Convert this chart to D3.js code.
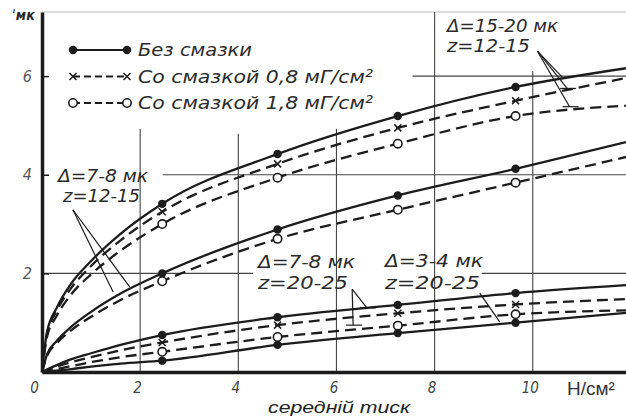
<!DOCTYPE html>
<html>
<head>
<meta charset="utf-8">
<script src="https://cdn.jsdelivr.net/npm/d3@7"></script>
<style>
  body { margin: 0; background: #fff; }
  svg { display: block; }
  .lbl { font-family: "Liberation Sans Narrow", "DejaVu Sans Condensed", "Liberation Sans", sans-serif; font-style: italic; fill: #2a2a2a; }
</style>
</head>
<body>
<svg id="drawing_region"></svg>
<script>
// x positions of the curve points (Н/см2); markers sit on four of them
const curveX  = [0, 0.1, 0.3, 0.6, 1, 1.6, 2.45, 4.8, 7.25, 9.65, 11.9];
const markerX = [2.45, 4.8, 7.25, 9.65];

// Δ=15-20 мк, z=12-15
const a_dry  = [0, 0.8, 1.3, 1.8, 2.25, 2.8, 3.41, 4.42, 5.19, 5.78, 6.16];
const a_08   = [0, 0.76, 1.24, 1.71, 2.15, 2.67, 3.25, 4.22, 4.95, 5.5, 5.96];
const a_18   = [0, 0.7, 1.14, 1.58, 1.98, 2.46, 3.0, 3.94, 4.63, 5.19, 5.4];
// Δ=7-8 мк, z=12-15
const b_dry  = [0, 0.35, 0.63, 0.92, 1.22, 1.59, 2.0, 2.89, 3.58, 4.12, 4.66];
const b_18   = [0, 0.32, 0.58, 0.85, 1.12, 1.46, 1.84, 2.7, 3.29, 3.84, 4.36];
// Δ=7-8 мк, z=20-25
const c_dry  = [0, 0.05, 0.14, 0.26, 0.38, 0.55, 0.75, 1.11, 1.36, 1.6, 1.76];
const c_08   = [0, 0.04, 0.11, 0.2, 0.3, 0.44, 0.6, 0.95, 1.19, 1.37, 1.48];
const c_18   = [0, 0.02, 0.06, 0.12, 0.2, 0.3, 0.41, 0.71, 0.94, 1.17, 1.25];
// Δ=3-4 мк, z=20-25
const d_dry  = [0, 0.01, 0.03, 0.06, 0.11, 0.17, 0.23, 0.55, 0.79, 1.0, 1.2];

const xTicks = [0, 2, 4, 6, 8, 10];
const yTicks = [2, 4, 6];

const legendLabels = ["Без смазки", "Со смазкой 0,8 мГ/см²", "Со смазкой 1,8 мГ/см²"];

// partial grid lines as drawn on the sheet (data units)
const vGrid = [[2, 0, 4.93], [4, 0, 4.83], [6, 0, 4.93], [8, 0, 7.3], [10, 0, 6.1]];
const hGrid = [[2, 0, 4.3], [2, 8.96, 11.9], [4, 2.46, 11.9], [6, 7.55, 11.9]];

const W = 626, H = 417;
const svg = d3.select('#drawing_region').attr('width', W).attr('height', H);

const x = d3.scaleLinear().domain([0, 11.9]).range([42, 626]);
const y = d3.scaleLinear().domain([0, 7.3]).range([372, 12]);

const ink = '#1c1c1c';

// frame top
svg.append('line')
    .attr('x1', x(0)).attr('x2', W).attr('y1', y(7.3)).attr('y2', y(7.3))
    .attr('stroke', '#bbb').attr('stroke-width', 1);

// grid
svg.append('g').selectAll('line').data(vGrid).join('line')
    .attr('x1', d => x(d[0])).attr('x2', d => x(d[0]))
    .attr('y1', d => y(d[1])).attr('y2', d => y(d[2]))
    .attr('stroke', '#444').attr('stroke-width', 1.1);
svg.append('g').selectAll('line').data(hGrid).join('line')
    .attr('y1', d => y(d[0])).attr('y2', d => y(d[0]))
    .attr('x1', d => x(d[1])).attr('x2', d => x(d[2]))
    .attr('stroke', '#444').attr('stroke-width', 1.1);

// axes
const xaxis = svg.append('g').attr('transform', `translate(0, ${y(0)})`)
    .call(d3.axisBottom(x).tickValues(xTicks).tickSize(0).tickPadding(10));
xaxis.select('.domain').attr('stroke', ink).attr('stroke-width', 3.5);
xaxis.selectAll('text').attr('class', 'lbl').attr('font-size', 15)
    .attr('dx', d => d === 0 ? -8 : -3).style('fill', '#444');

const yaxis = svg.append('g').attr('transform', `translate(${x(0)}, 0)`)
    .call(d3.axisLeft(y).tickValues(yTicks).tickSizeInner(-7).tickSizeOuter(0).tickPadding(10));
yaxis.select('.domain').attr('stroke', ink).attr('stroke-width', 3.5);
yaxis.selectAll('.tick line').attr('stroke', ink).attr('stroke-width', 1.5);
yaxis.selectAll('text').attr('class', 'lbl').attr('font-size', 16).style('fill', '#555');

// curves
const table = [
    { vals: a_dry, kind: 'dot' }, { vals: a_08, kind: 'x' }, { vals: a_18, kind: 'o' },
    { vals: b_dry, kind: 'dot' }, { vals: b_18, kind: 'o' },
    { vals: c_dry, kind: 'dot' }, { vals: c_08, kind: 'x' }, { vals: c_18, kind: 'o' },
    { vals: d_dry, kind: 'dot' }
].map(s => ({ kind: s.kind, pts: curveX.map((cx, i) => [cx, s.vals[i]]) }));

const line = d3.line().x(d => x(d[0])).y(d => y(d[1])).curve(d3.curveMonotoneX);

svg.append('g').selectAll('path').data(table).join('path')
    .attr('d', d => line(d.pts))
    .attr('fill', 'none').attr('stroke', ink).attr('stroke-width', 2.3)
    .attr('stroke-dasharray', d => d.kind === 'dot' ? null : '11,6');

function drawMarker(g, kind, px, py) {
    if (kind === 'dot') {
        g.append('circle').attr('cx', px).attr('cy', py).attr('r', 4.2).attr('fill', ink);
    } else if (kind === 'o') {
        g.append('circle').attr('cx', px).attr('cy', py).attr('r', 4.2)
            .attr('fill', '#fff').attr('stroke', ink).attr('stroke-width', 1.6);
    } else {
        const s = 3.5;
        g.append('path').attr('d', `M${px - s},${py - s}L${px + s},${py + s}M${px - s},${py + s}L${px + s},${py - s}`)
            .attr('stroke', ink).attr('stroke-width', 1.5).attr('fill', 'none');
    }
}

const mk = svg.append('g');
table.forEach(s => {
    s.pts.filter(p => markerX.includes(p[0])).forEach(p => drawMarker(mk, s.kind, x(p[0]), y(p[1])));
});

// legend
const kinds = ['dot', 'x', 'o'];
const lg = svg.append('g');
legendLabels.forEach((t, i) => {
    const ly = 50 + i * 26.5;
    lg.append('line').attr('x1', 73).attr('x2', 127).attr('y1', ly).attr('y2', ly)
        .attr('stroke', ink).attr('stroke-width', 1.8)
        .attr('stroke-dasharray', i === 0 ? null : '7,4');
    drawMarker(lg, kinds[i], 73, ly);
    drawMarker(lg, kinds[i], 127, ly);
    lg.append('text').attr('class', 'lbl').attr('x', 138).attr('y', ly + 6)
        .attr('font-size', 18).attr('textLength', i === 0 ? 114 : 235)
        .attr('lengthAdjust', 'spacingAndGlyphs').text(t);
});

// group labels
const notes = [
    ['Δ=15-20 мк', 447, 32, 111], ['z=12-15', 447, 52, 83],
    ['Δ=7-8 мк', 58, 182, 90], ['z=12-15', 63, 202, 77],
    ['Δ=7-8 мк', 258, 268, 97], ['z=20-25', 258, 289, 90],
    ['Δ=3-4 мк', 385, 267, 98], ['z=20-25', 385, 289, 95]
];
svg.append('g').selectAll('text').data(notes).join('text')
    .attr('class', 'lbl').attr('font-size', 18)
    .attr('x', d => d[1]).attr('y', d => d[2])
    .attr('textLength', d => d[3]).attr('lengthAdjust', 'spacingAndGlyphs')
    .text(d => d[0]);

// leader lines (data units): start, end, end tick
const leaders = [
    [[10.1, 6.5], [10.6, 5.98], false],
    [[10.1, 6.5], [10.7, 5.75], true],
    [[10.1, 6.5], [10.75, 5.38], true],
    [[0.63, 3.29], [1.45, 1.62], false],
    [[0.63, 3.29], [1.79, 1.72], false],
    [[6.32, 1.68], [6.62, 1.3], true],
    [[6.32, 1.68], [6.34, 0.95], true],
    [[8.92, 1.6], [9.33, 1.01], false]
];
const ld = svg.append('g').attr('stroke', ink).attr('stroke-width', 1.2);
leaders.forEach(l => {
    ld.append('line').attr('x1', x(l[0][0])).attr('y1', y(l[0][1]))
        .attr('x2', x(l[1][0])).attr('y2', y(l[1][1]));
    if (l[2]) {
        ld.append('line').attr('x1', x(l[1][0]) - 7).attr('x2', x(l[1][0]) + 9)
            .attr('y1', y(l[1][1])).attr('y2', y(l[1][1]));
    }
});

// axis titles
svg.append('text').attr('class', 'lbl').attr('x', 12).attr('y', 20)
    .attr('font-size', 14).attr('font-weight', 'bold').text('ˈмк');
svg.append('text').attr('x', 567).attr('y', 395)
    .attr('font-family', 'Liberation Sans, Arial, sans-serif').attr('font-size', 19)
    .attr('fill', '#333').text('Н/см²');
svg.append('text').attr('x', 268).attr('y', 413)
    .attr('font-family', 'Liberation Sans, Arial, sans-serif').attr('font-style', 'italic')
    .attr('font-size', 16).attr('fill', '#222').attr('textLength', 142)
    .attr('lengthAdjust', 'spacingAndGlyphs').text('середній тиск');
</script>
</body>
</html>
